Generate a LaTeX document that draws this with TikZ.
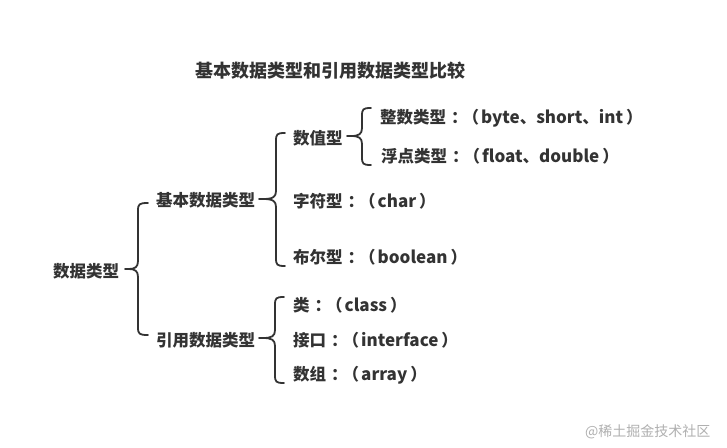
\documentclass[tikz,border=0pt]{standalone}
\usepackage{fontspec}
\setmainfont{Noto Sans CJK SC}
\definecolor{ink}{HTML}{333333}
\definecolor{wm}{HTML}{B0B0B0}
\newcommand\cln{\kern.3em：\kern-.3em}
\newcommand\lp{（\kern2pt}
\newcommand\rp{\kern3pt）}
\newcommand\la[1]{{\fontsize{17}{18}\selectfont #1}}
\tikzset{
  lbl/.style={anchor=west,inner sep=0pt,font=\fontsize{16.5}{18}\selectfont\bfseries,text=ink},
  ttl/.style={anchor=center,inner sep=0pt,font=\fontsize{18}{20}\selectfont\bfseries,text=ink},
  brc/.style={draw=ink,line width=1.8pt,line cap=round,line join=round},
}
% #1 tip x, #2 tip y, #3 vertical x, #4 top y, #5 bottom y, #6 end x
\newcommand\bracegrp[6]{%
  \draw[brc] (#6,#4) .. controls (#3+1,#4) and (#3,#4+1) .. (#3,#4+8)
    -- (#3,#2-8) .. controls (#3,#2-2) and (#3-3,#2) .. (#1+4,#2) -- (#1,#2);
  \draw[brc] (#1+4,#2) .. controls (#3-3,#2) and (#3,#2+2) .. (#3,#2+8)
    -- (#3,#5-8) .. controls (#3,#5-1) and (#3+1,#5) .. (#6,#5);
}
\begin{document}
\begin{tikzpicture}[x=1pt,y=-1pt]
\useasboundingbox[fill=white] (0,0) rectangle (727,447);
\node[ttl] (title) at (330,71) {基本数据类型和引用数据类型比较};
\node[lbl] (root) at (53,271) {数据类型};
\node[lbl] (basic) at (156,200) {基本数据类型};
\node[lbl] (ref) at (156,340) {引用数据类型};
\node[lbl] (num) at (293,138) {数值型};
\node[lbl] (int) at (380,118) {整数类型\cln\lp\la{byte}、\la{short}、\la{int}\rp};
\node[lbl] (flt) at (381,156) {浮点类型\cln\lp\la{float}、\la{double}\rp};
\node[lbl] (chr) at (293,201) {字符型\cln\lp\la{char}\rp};
\node[lbl] (bool) at (293,257) {布尔型\cln\lp\la{boolean}\rp};
\node[lbl] (cls) at (293,305) {类\cln\lp\la{class}\rp};
\node[lbl] (ifc) at (293,340) {接口\cln\lp\la{interface}\rp};
\node[lbl] (arr) at (293,375) {数组\cln\lp\la{array}\rp};
\node[anchor=west,inner sep=0pt,font=\fontsize{14}{16}\selectfont,text=wm] (wmk) at (585,432) {@稀土掘金技术社区};
\bracegrp{125}{269}{138}{203}{335}{148}
\bracegrp{259}{199}{276}{133}{266}{285}
\bracegrp{347}{136}{362}{108}{165}{371}
\bracegrp{259}{338}{275}{297}{383}{284}
\end{tikzpicture}
\end{document}
